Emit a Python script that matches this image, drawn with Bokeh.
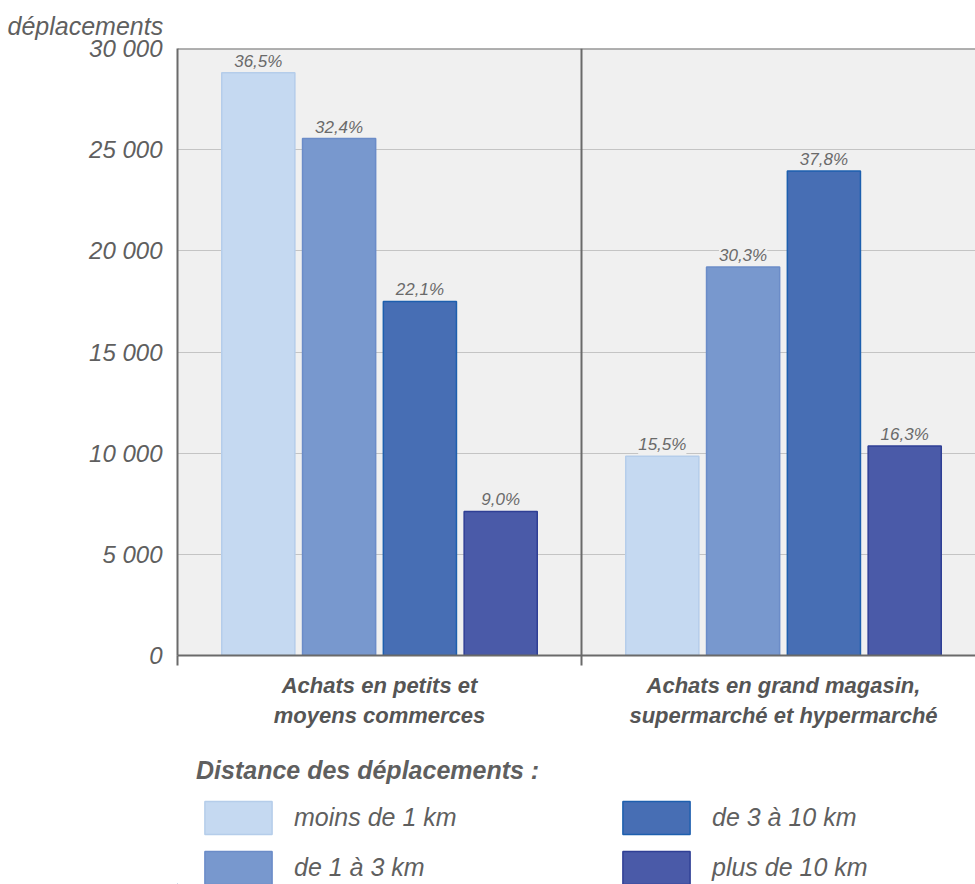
from bokeh.plotting import figure
from bokeh.layouts import column
from bokeh.core.properties import value
from bokeh.models import (ColumnDataSource, LabelSet, Span, FixedTicker,
                          Legend, LegendItem, Range1d)
from bokeh.embed import file_html
from bokeh.resources import INLINE

# ---- data ----
categories = ["Achats en petits et\nmoyens commerces",
              "Achats en grand magasin,\nsupermarché et hypermarché"]
series = ["moins de 1 km", "de 1 à 3 km", "de 3 à 10 km", "plus de 10 km"]
v_moins_1 = [28800, 9850]
v_1_a_3 = [25550, 19200]
v_3_a_10 = [17500, 23950]
v_plus_10 = [7120, 10350]
pct_moins_1 = ["36,5%", "15,5%"]
pct_1_a_3 = ["32,4%", "30,3%"]
pct_3_a_10 = ["22,1%", "37,8%"]
pct_plus_10 = ["9,0%", "16,3%"]
y_ticks = [0, 5000, 10000, 15000, 20000, 25000, 30000]
y_tick_labels = ["0", "5 000", "10 000", "15 000", "20 000", "25 000", "30 000"]
y_title = "déplacements"
legend_title = "Distance des déplacements :"

values = [v_moins_1, v_1_a_3, v_3_a_10, v_plus_10]
pcts = [pct_moins_1, pct_1_a_3, pct_3_a_10, pct_plus_10]
fills = ["#c5d9f1", "#7898ce", "#476eb4", "#4a5aa8"]
lines = ["#b5cdea", "#6b8cc8", "#1d5fae", "#2f3f95"]

FONT = "Liberation Sans"
TXT = "#5f5f5f"
BG = "#f0f0f0"

p = figure(width=975, height=740, output_backend="svg", toolbar_location=None,
           x_range=Range1d(0, 798 / 404), y_range=Range1d(0, 30000),
           min_border_left=177, min_border_right=0, min_border_top=48,
           min_border_bottom=85)
p.background_fill_color = BG
p.border_fill_color = "white"
p.outline_line_color = None

p.title.text = y_title
p.title.align = "left"
p.title.offset = -170
p.title.standoff = 18
p.title.text_font = FONT
p.title.text_font_style = "italic"
p.title.text_font_size = "25px"
p.title.text_color = TXT

centers = [0.5, 1.5]
offsets = [-0.3, -0.1, 0.1, 0.3]
bar_w = 0.181
for i, name in enumerate(series):
    xs = [c + offsets[i] for c in centers]
    src = ColumnDataSource(dict(x=xs, top=values[i], pct=pcts[i]))
    p.vbar(x="x", top="top", width=bar_w, source=src,
           fill_color=fills[i], line_color=lines[i], line_width=1.5)
    ls = LabelSet(x="x", y="top", text="pct", source=src, text_align="center",
                  text_baseline="bottom", y_offset=2, text_font=value(FONT),
                  text_font_style="italic", text_font_size="17px",
                  text_color="#6a6a6a", background_fill_color=BG)
    p.add_layout(ls)

# grid / axes
p.xgrid.grid_line_color = None
p.ygrid.ticker = FixedTicker(ticks=y_ticks)
p.ygrid.grid_line_color = "#c4c4c4"
p.ygrid.grid_line_width = 1

p.yaxis.ticker = FixedTicker(ticks=y_ticks)
p.yaxis.major_label_overrides = {t: l for t, l in zip(y_ticks, y_tick_labels)}
p.yaxis.major_tick_line_color = None
p.yaxis.minor_tick_line_color = None
p.yaxis.axis_line_color = "#6a6a6a"
p.yaxis.axis_line_width = 2
p.yaxis.major_label_standoff = 9
p.yaxis.major_label_text_font = FONT
p.yaxis.major_label_text_font_style = "italic"
p.yaxis.major_label_text_font_size = "24px"
p.yaxis.major_label_text_color = TXT

p.xaxis.ticker = FixedTicker(ticks=centers, minor_ticks=[0, 1])
p.xaxis.major_label_overrides = {c: l for c, l in zip(centers, categories)}
p.xaxis.major_tick_line_color = None
p.xaxis.minor_tick_line_color = "#6a6a6a"
p.xaxis.minor_tick_line_width = 2
p.xaxis.minor_tick_in = 0
p.xaxis.minor_tick_out = 10
p.xaxis.axis_line_color = "#6a6a6a"
p.xaxis.axis_line_width = 2
p.xaxis.major_label_standoff = 7
p.xaxis.major_label_text_font = FONT
p.xaxis.major_label_text_font_style = "bold italic"
p.xaxis.major_label_text_font_size = "22px"
p.xaxis.major_label_text_color = "#555555"

p.add_layout(Span(location=1, dimension="height", line_color="#6a6a6a", line_width=2))
p.add_layout(Span(location=30000, dimension="width", line_color="#6a6a6a", line_width=2))

# ---- legend panel ----
q = figure(width=975, height=144, output_backend="svg", toolbar_location=None,
           x_range=Range1d(0, 1), y_range=Range1d(0, 1),
           x_axis_location=None, y_axis_location=None,
           min_border_left=177, min_border_right=0, min_border_top=0,
           min_border_bottom=0)
q.outline_line_color = None
q.grid.visible = False
q.background_fill_color = "white"
items = []
for i, name in enumerate(series):
    # off-range placeholder so the legend has a glyph to draw
    r = q.vbar(x=[-10], top=[-10], bottom=[-11], width=0.1, fill_color=fills[i],
               line_color=lines[i], line_width=1.5)
    items.append(LegendItem(label=name, renderers=[r]))

legend = Legend(items=items, nrows=2, orientation="vertical",
                title=legend_title, title_text_font=FONT,
                title_text_font_style="bold italic", title_text_font_size="25px",
                title_text_color=TXT, title_standoff=12,
                label_text_font=FONT, label_text_font_style="italic",
                label_text_font_size="25px", label_text_color=TXT,
                glyph_width=84, glyph_height=41, label_standoff=14,
                label_width=311, spacing=9, padding=0, margin=0,
                border_line_color=None, background_fill_alpha=0,
                location=(19, -4))
q.add_layout(legend)

open("out.html", "w").write(file_html(column(p, q, spacing=0), INLINE))
